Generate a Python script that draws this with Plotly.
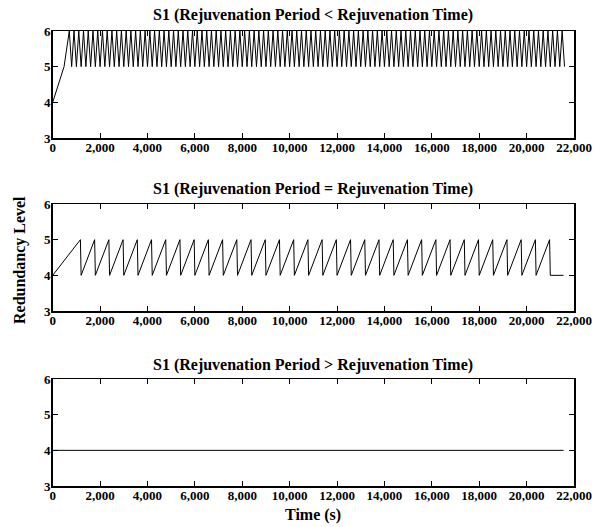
import plotly.graph_objects as go

# ---- data ----
time_s1 = [
    0, 480,
    700, 800, 900, 1000, 1100, 1200, 1300, 1400, 1500, 1600, 1700, 1800, 1900, 2000,
    2100, 2200, 2300, 2400, 2500, 2600, 2700, 2800, 2900, 3000, 3100, 3200, 3300, 3400, 3500, 3600, 3700, 3800, 3900, 4000,
    4100, 4200, 4300, 4400, 4500, 4600, 4700, 4800, 4900, 5000, 5100, 5200, 5300, 5400, 5500, 5600, 5700, 5800, 5900, 6000,
    6100, 6200, 6300, 6400, 6500, 6600, 6700, 6800, 6900, 7000, 7100, 7200, 7300, 7400, 7500, 7600, 7700, 7800, 7900, 8000,
    8100, 8200, 8300, 8400, 8500, 8600, 8700, 8800, 8900, 9000, 9100, 9200, 9300, 9400, 9500, 9600, 9700, 9800, 9900, 10000,
    10100, 10200, 10300, 10400, 10500, 10600, 10700, 10800, 10900, 11000, 11100, 11200, 11300, 11400, 11500, 11600, 11700, 11800, 11900, 12000,
    12100, 12200, 12300, 12400, 12500, 12600, 12700, 12800, 12900, 13000, 13100, 13200, 13300, 13400, 13500, 13600, 13700, 13800, 13900, 14000,
    14100, 14200, 14300, 14400, 14500, 14600, 14700, 14800, 14900, 15000, 15100, 15200, 15300, 15400, 15500, 15600, 15700, 15800, 15900, 16000,
    16100, 16200, 16300, 16400, 16500, 16600, 16700, 16800, 16900, 17000, 17100, 17200, 17300, 17400, 17500, 17600, 17700, 17800, 17900, 18000,
    18100, 18200, 18300, 18400, 18500, 18600, 18700, 18800, 18900, 19000, 19100, 19200, 19300, 19400, 19500, 19600, 19700, 19800, 19900, 20000,
    20100, 20200, 20300, 20400, 20500, 20600, 20700, 20800, 20900, 21000, 21100, 21200, 21300, 21400, 21500, 21600,
]
level_s1 = [
    4, 5,
    6, 5, 6, 5, 6, 5, 6, 5, 6, 5, 6, 5, 6, 5,
    6, 5, 6, 5, 6, 5, 6, 5, 6, 5, 6, 5, 6, 5, 6, 5, 6, 5, 6, 5,
    6, 5, 6, 5, 6, 5, 6, 5, 6, 5, 6, 5, 6, 5, 6, 5, 6, 5, 6, 5,
    6, 5, 6, 5, 6, 5, 6, 5, 6, 5, 6, 5, 6, 5, 6, 5, 6, 5, 6, 5,
    6, 5, 6, 5, 6, 5, 6, 5, 6, 5, 6, 5, 6, 5, 6, 5, 6, 5, 6, 5,
    6, 5, 6, 5, 6, 5, 6, 5, 6, 5, 6, 5, 6, 5, 6, 5, 6, 5, 6, 5,
    6, 5, 6, 5, 6, 5, 6, 5, 6, 5, 6, 5, 6, 5, 6, 5, 6, 5, 6, 5,
    6, 5, 6, 5, 6, 5, 6, 5, 6, 5, 6, 5, 6, 5, 6, 5, 6, 5, 6, 5,
    6, 5, 6, 5, 6, 5, 6, 5, 6, 5, 6, 5, 6, 5, 6, 5, 6, 5, 6, 5,
    6, 5, 6, 5, 6, 5, 6, 5, 6, 5, 6, 5, 6, 5, 6, 5, 6, 5, 6, 5,
    6, 5, 6, 5, 6, 5, 6, 5, 6, 5, 6, 5, 6, 5, 6, 5,
]

time_s2 = [
    0,
    1170, 1200, 1770, 1800, 2370, 2400, 2970, 3000, 3570, 3600,
    4170, 4200, 4770, 4800, 5370, 5400, 5970, 6000, 6570, 6600,
    7170, 7200, 7770, 7800, 8370, 8400, 8970, 9000, 9570, 9600,
    10170, 10200, 10770, 10800, 11370, 11400, 11970, 12000, 12570, 12600,
    13170, 13200, 13770, 13800, 14370, 14400, 14970, 15000, 15570, 15600,
    16170, 16200, 16770, 16800, 17370, 17400, 17970, 18000, 18570, 18600,
    19170, 19200, 19770, 19800, 20370, 20400, 20970, 21000,
    21560,
]
level_s2 = [
    4,
    5, 4, 5, 4, 5, 4, 5, 4, 5, 4,
    5, 4, 5, 4, 5, 4, 5, 4, 5, 4,
    5, 4, 5, 4, 5, 4, 5, 4, 5, 4,
    5, 4, 5, 4, 5, 4, 5, 4, 5, 4,
    5, 4, 5, 4, 5, 4, 5, 4, 5, 4,
    5, 4, 5, 4, 5, 4, 5, 4, 5, 4,
    5, 4, 5, 4, 5, 4, 5, 4,
    4,
]

time_s3 = [0, 21560]
level_s3 = [4, 4]

titles = [
    "S1 (Rejuvenation Period &lt; Rejuvenation Time)",
    "S1 (Rejuvenation Period = Rejuvenation Time)",
    "S1 (Rejuvenation Period &gt; Rejuvenation Time)",
]
x_title = "Time (s)"
y_title = "Redundancy Level"

# ---- layout geometry ----
W, H = 601, 527
FONT = "Liberation Serif"
x_dom = [52.7 / W, 574 / W]
panels_px = [(31, 138), (204, 311), (379, 486)]  # top, bottom in pixels
title_y_px = [15, 189, 365]

fig = go.Figure()
series = [(time_s1, level_s1), (time_s2, level_s2), (time_s3, level_s3)]
layout = dict(
    width=W, height=H,
    margin=dict(l=0, r=0, t=0, b=0, autoexpand=False),
    paper_bgcolor="white", plot_bgcolor="white",
    showlegend=False,
    font=dict(family=FONT, size=13, color="black", weight="bold"),
    annotations=[],
)
for i, (xs, ys) in enumerate(series):
    n = "" if i == 0 else str(i + 1)
    fig.add_trace(go.Scatter(x=xs, y=ys, mode="lines",
                             line=dict(color="black", width=1),
                             xaxis="x" + n, yaxis="y" + n, hoverinfo="skip"))
    top, bot = panels_px[i]
    axis_common = dict(showline=True, linecolor="black", linewidth=1.5,
                       mirror="ticks", ticks="inside", ticklen=5,
                       tickwidth=1, tickcolor="black", showgrid=False,
                       zeroline=False, automargin=False,
                       tickfont=dict(family=FONT, size=13, color="black", weight="bold"))
    layout["xaxis" + n] = dict(axis_common, domain=x_dom, range=[0, 22000],
                               dtick=2000, tick0=0, tickformat=",d",
                               anchor="y" + n, ticklabelstandoff=-3)
    layout["yaxis" + n] = dict(axis_common, domain=[1 - bot / H, 1 - top / H],
                               range=[3, 6], dtick=1, tick0=3,
                               anchor="x" + n, ticklabelstandoff=-2)
    layout["annotations"].append(dict(
        text=titles[i], xref="paper", yref="paper",
        x=(x_dom[0] + x_dom[1]) / 2, y=1 - title_y_px[i] / H,
        xanchor="center", yanchor="middle", showarrow=False,
        font=dict(family=FONT, size=16, color="black", weight="bold")))

layout["annotations"].append(dict(
    text=x_title, xref="paper", yref="paper",
    x=(x_dom[0] + x_dom[1]) / 2, y=1 - 515 / H,
    xanchor="center", yanchor="middle", showarrow=False,
    font=dict(family=FONT, size=16, color="black", weight="bold")))
layout["annotations"].append(dict(
    text=y_title, xref="paper", yref="paper",
    x=20 / W, y=1 - 260 / H, textangle=-90,
    xanchor="center", yanchor="middle", showarrow=False,
    font=dict(family=FONT, size=16, color="black", weight="bold")))

fig.update_layout(**layout)
fig.write_html(
    "out.html",
    config={"displayModeBar": False, "staticPlot": True},
    post_script="document.body.style.margin='0';document.body.style.overflow='hidden';",
)
